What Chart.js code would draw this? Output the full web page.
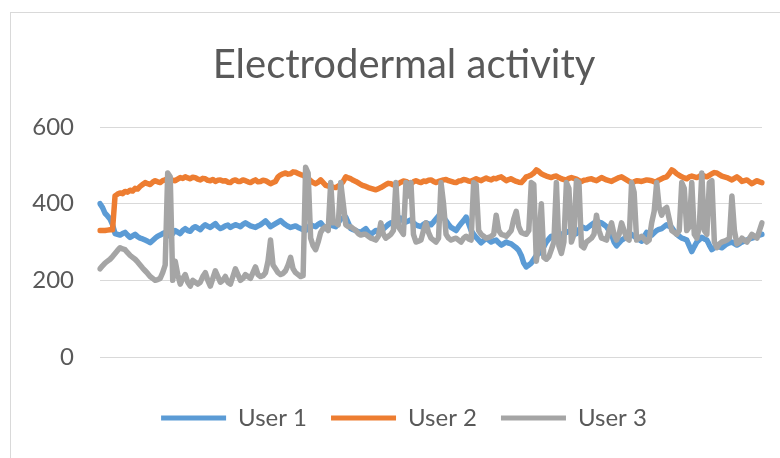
<!DOCTYPE html>
<html>
<head>
<meta charset="utf-8">
<title>Electrodermal activity</title>
<script src="https://cdn.jsdelivr.net/npm/chart.js@4.4.1/dist/chart.umd.min.js"></script>
<style>
  html, body { margin: 0; padding: 0; background: #fff; overflow: hidden; }
  #wrap { position: relative; width: 780px; height: 458px; overflow: hidden; }
  #frame { position: absolute; left: 10px; top: 12px; width: 820px; height: 500px; border: 1px solid #d9d9d9; }
  canvas { position: absolute; left: 0; top: 0; }
</style>
</head>
<body>
<div id="wrap">
  <div id="frame"></div>
  <!-- the original chart is cropped on the right, so the canvas runs past the window -->
  <canvas id="eda" width="826" height="458"></canvas>
</div>
<script>
// Electrodermal activity, three users

const seriesNames = ['User 1', 'User 2', 'User 3'];
const yTicks = [0, 200, 400, 600];

const user1 = [
  400, 390, 375, 368, 360, 345, 322, 320, 318, 322, 325, 318, 312, 316, 320, 314, 310, 308, 305, 302,
  298, 304, 310, 315, 318, 322, 325, 320, 315, 322, 330, 326, 322, 330, 335, 330, 328, 336, 340, 336,
  332, 340, 345, 341, 338, 343, 348, 340, 335, 338, 342, 344, 338, 342, 345, 343, 340, 346, 350, 346,
  342, 340, 338, 342, 345, 350, 355, 348, 340, 344, 348, 352, 356, 350, 345, 341, 338, 340, 342, 338,
  335, 332, 330, 338, 345, 342, 340, 346, 350, 342, 335, 340, 345, 342, 340, 350, 360, 362, 365, 350,
  335, 332, 330, 327, 325, 330, 335, 326, 320, 325, 330, 328, 328, 334, 340, 346, 350, 347, 345, 352,
  362, 356, 352, 355, 358, 350, 345, 342, 340, 346, 350, 347, 345, 352, 360, 368, 375, 365, 355, 346,
  338, 334, 330, 340, 348, 356, 365, 348, 330, 320, 312, 305, 298, 304, 310, 305, 300, 303, 305, 298,
  292, 296, 300, 297, 295, 290, 285, 278, 265, 245, 235, 240, 245, 255, 265, 270, 275, 288, 300, 308,
  315, 310, 305, 312, 320, 323, 325, 328, 330, 326, 322, 332, 340, 337, 335, 340, 345, 350, 355, 352,
  350, 345, 340, 330, 320, 300, 290, 298, 305, 309, 312, 316, 320, 315, 310, 306, 302, 314, 325, 321,
  318, 324, 330, 333, 335, 340, 345, 341, 338, 328, 320, 315, 310, 308, 305, 290, 275, 288, 300, 306,
  312, 308, 305, 292, 280, 285, 290, 287, 285, 290, 295, 298, 300, 296, 292, 296, 300, 302, 305, 308,
  310, 312, 315, 318, 320
];

const user2 = [
  330, 330, 330, 331, 332, 332, 420, 425, 428, 426, 432, 430, 435, 433, 440, 438, 445, 450, 455, 452,
  450, 456, 460, 457, 455, 460, 462, 466, 465, 461, 460, 464, 468, 466, 470, 467, 465, 469, 468, 464,
  462, 466, 465, 461, 460, 463, 458, 461, 462, 459, 460, 456, 455, 460, 462, 458, 458, 462, 460, 457,
  455, 459, 462, 457, 458, 461, 460, 456, 452, 455, 458, 470, 475, 478, 480, 477, 478, 483, 482, 479,
  476, 474, 470, 466, 460, 455, 452, 456, 462, 455, 448, 446, 445, 443, 442, 446, 450, 458, 470, 467,
  465, 461, 458, 454, 450, 447, 445, 442, 440, 438, 436, 439, 442, 446, 450, 453, 452, 449, 448, 452,
  456, 459, 458, 454, 452, 457, 460, 457, 455, 459, 458, 461, 462, 458, 455, 458, 460, 462, 463, 460,
  458, 456, 455, 459, 460, 463, 462, 459, 458, 462, 465, 462, 460, 464, 467, 464, 462, 466, 465, 468,
  470, 465, 460, 463, 465, 461, 458, 456, 455, 462, 470, 472, 475, 480, 488, 484, 478, 475, 472, 470,
  468, 471, 472, 468, 465, 463, 462, 466, 468, 466, 464, 460, 458, 461, 462, 464, 465, 462, 460, 464,
  468, 465, 462, 460, 458, 462, 465, 468, 470, 466, 462, 458, 455, 457, 460, 459, 458, 460, 462, 461,
  460, 457, 458, 462, 465, 468, 470, 478, 488, 484, 478, 474, 470, 467, 465, 470, 472, 470, 468, 471,
  475, 472, 470, 474, 478, 481, 480, 476, 472, 470, 468, 465, 462, 466, 470, 465, 458, 460, 462, 457,
  452, 456, 460, 457, 455
];

const user3 = [
  230, 238, 245, 250, 255, 262, 270, 278, 285, 282, 280, 272, 265, 260, 255, 248, 240, 232, 225, 218,
  210, 205, 200, 202, 205, 220, 240, 480, 470, 200, 250, 215, 190, 205, 215, 195, 185, 200, 195, 190,
  195, 210, 220, 200, 185, 205, 225, 210, 195, 200, 210, 195, 190, 210, 230, 215, 200, 205, 215, 210,
  205, 220, 235, 215, 210, 212, 220, 250, 305, 240, 230, 220, 215, 218, 225, 240, 260, 230, 220, 215,
  210, 212, 495, 480, 310, 290, 280, 300, 325, 335, 340, 330, 455, 350, 350, 345, 455, 400, 345, 340,
  340, 335, 330, 322, 318, 320, 320, 315, 310, 308, 305, 315, 350, 320, 310, 315, 320, 330, 455, 340,
  330, 320, 455, 420, 455, 320, 300, 302, 305, 330, 350, 325, 310, 305, 300, 310, 455, 400, 320, 310,
  305, 308, 310, 305, 300, 310, 315, 308, 305, 455, 450, 330, 320, 315, 310, 312, 315, 320, 370, 330,
  320, 318, 315, 322, 330, 360, 380, 340, 325, 322, 320, 330, 455, 450, 250, 300, 400, 260, 255, 262,
  280, 300, 455, 290, 270, 300, 455, 440, 300, 320, 460, 455, 290, 285, 300, 305, 310, 320, 370, 330,
  310, 308, 305, 330, 350, 320, 305, 320, 350, 330, 310, 305, 455, 430, 305, 310, 315, 308, 300, 305,
  350, 380, 455, 390, 370, 385, 390, 360, 330, 325, 320, 330, 455, 440, 330, 340, 455, 320, 310, 340,
  480, 330, 320, 455, 460, 300, 285, 295, 300, 302, 305, 310, 420, 330, 295, 300, 310, 305, 300, 310,
  320, 315, 310, 330, 350
];

// sample index along the x axis (the original shows no x labels)
const samples = user1.map((_, i) => i + 1);

const colors = ['#5b9bd5', '#ed7d31', '#a5a5a5'];
const textColor = '#595959';
const font = 'Lato, "Open Sans", sans-serif';

function lineSet(label, data, color, order) {
  return {
    label, data, order,
    borderColor: color,
    backgroundColor: color,
    borderWidth: 5.5,
    pointRadius: 0,
    tension: 0,
    borderJoinStyle: 'round',
    borderCapStyle: 'round',
  };
}

new Chart(document.getElementById('eda'), {
  type: 'line',
  data: {
    labels: samples,
    datasets: [
      lineSet(seriesNames[0], user1, colors[0], 2),
      lineSet(seriesNames[1], user2, colors[1], 1),
      lineSet(seriesNames[2], user3, colors[2], 0),
    ],
  },
  options: {
    responsive: false,
    animation: false,
    devicePixelRatio: 1,
    layout: { padding: { left: 0, right: 18, top: 0, bottom: 18 } },
    plugins: {
      tooltip: { enabled: false },
      title: {
        display: true,
        text: 'Electrodermal activity',
        color: textColor,
        font: { family: font, size: 40, weight: 'normal' },
        padding: { top: 41, bottom: 38 },
      },
      legend: {
        position: 'bottom',
        labels: {
          color: textColor,
          font: { family: font, size: 24 },
          boxWidth: 65,
          boxHeight: 5,
          padding: 24,
          sort: (a, b) => a.datasetIndex - b.datasetIndex,
          generateLabels: chart => Chart.defaults.plugins.legend.labels.generateLabels(chart)
            .map(l => ({ ...l, lineWidth: 0 })),
        },
      },
    },
    scales: {
      x: {
        display: true,
        offset: false,
        ticks: { display: false },
        grid: { display: false },
        border: { display: false },
        afterFit: s => { s.height = 25; },
      },
      y: {
        min: 0,
        max: 600,
        afterBuildTicks: s => { s.ticks = yTicks.map(v => ({ value: v })); },
        ticks: { color: textColor, font: { family: font, size: 24 }, padding: 26 },
        grid: { color: '#d9d9d9', lineWidth: 1, drawTicks: false },
        border: { display: false },
        afterFit: s => { s.width = 100; },
      },
      // empty right-hand space of the plot, as in the original layout
      yRight: {
        position: 'right',
        display: true,
        min: 0,
        max: 600,
        ticks: { display: false },
        grid: { display: false },
        border: { display: false },
        afterFit: s => { s.width = 46; },
      },
    },
  },
});
</script>
</body>
</html>
